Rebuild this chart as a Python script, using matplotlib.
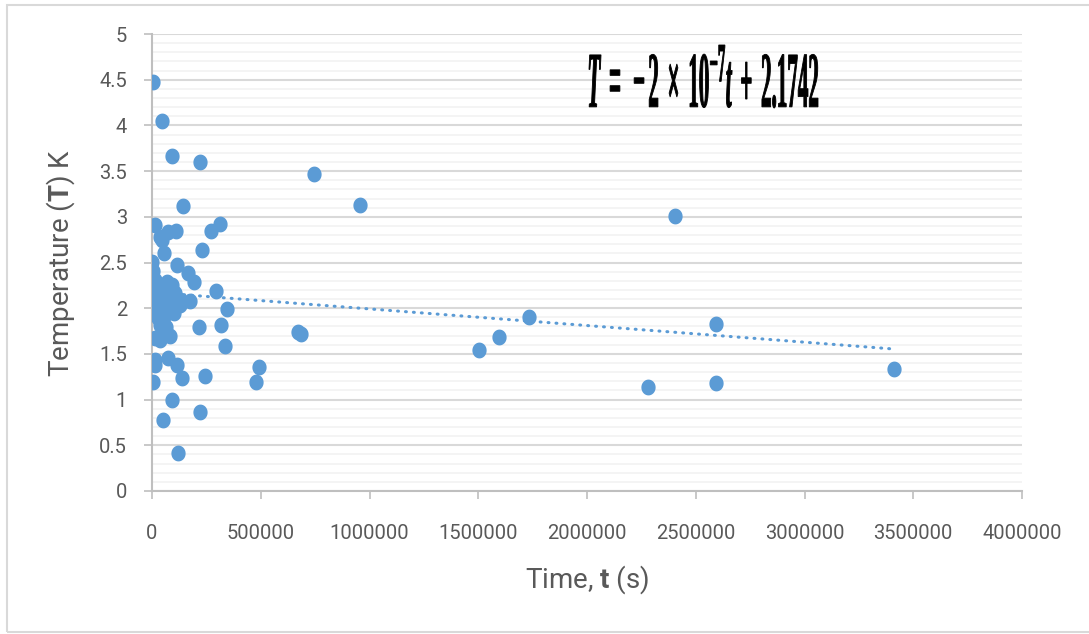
import numpy as np
import matplotlib
matplotlib.use("Agg")
import matplotlib.pyplot as plt
from matplotlib.textpath import TextPath
from matplotlib.patches import PathPatch, Rectangle
from matplotlib.font_manager import FontProperties
from matplotlib.path import Path
import matplotlib.transforms as mtransforms
from matplotlib.ticker import MultipleLocator

plt.rcParams['font.family'] = ['Roboto', 'DejaVu Sans']
plt.rcParams['mathtext.fontset'] = 'custom'
plt.rcParams['mathtext.bf'] = 'Roboto:bold'
plt.rcParams['mathtext.rm'] = 'Liberation Serif:bold'
plt.rcParams['mathtext.it'] = 'Liberation Serif:bold:italic'

# ---- data (time in s, temperature in K) ----
time_s = [5000, 46000, 92000, 221000, 745000, 956000, 143000, 2405000, 14000, 313000,
          271000, 110000, 74000, 37000, 46000, 230000, 55000, 2000, 115000, 5000,
          166000, 193000, 14000, 69000, 5000, 37000, 92000, 69000, 294000, 23000,
          83000, 129000, 175000, 37000, 83000, 129000, 345000, 23000, 69000, 51000,
          1733000, 2593000, 317000, 216000, 671000, 685000, 83000, 1595000, 14000, 37000,
          336000, 1503000, 14000, 14000, 74000, 115000, 492000, 3411000, 138000, 244000,
          478000, 2593000, 5000, 2280000, 92000, 221000, 51000, 120000,
          2000, 60000, 106000, 37000, 64000, 5000, 101000, 28000]
temperature_K = [4.47, 4.05, 3.67, 3.60, 3.47, 3.13, 3.12, 3.01, 2.91, 2.92,
                 2.84, 2.84, 2.83, 2.78, 2.75, 2.64, 2.60, 2.51, 2.47, 2.41,
                 2.39, 2.29, 2.31, 2.29, 2.23, 2.22, 2.25, 2.20, 2.19, 2.09,
                 2.09, 2.09, 2.08, 2.01, 2.01, 2.04, 1.99, 1.95, 1.95, 1.87,
                 1.90, 1.83, 1.82, 1.79, 1.74, 1.72, 1.70, 1.68, 1.67, 1.65,
                 1.59, 1.54, 1.43, 1.38, 1.46, 1.38, 1.36, 1.33, 1.24, 1.26,
                 1.19, 1.18, 1.19, 1.14, 1.00, 0.86, 0.78, 0.42,
                 2.14, 2.14, 2.17, 1.82, 1.79, 2.03, 1.95, 1.89]

trend_slope = -1.82e-7
trend_intercept = 2.1742
trend_t_range = [0, 3411000]

x_ticks = [0, 500000, 1000000, 1500000, 2000000, 2500000, 3000000, 3500000, 4000000]
y_ticks = [0, 0.5, 1, 1.5, 2, 2.5, 3, 3.5, 4, 4.5, 5]
y_tick_labels = ['0', '0.5', '1', '1.5', '2', '2.5', '3', '3.5', '4', '4.5', '5']

W, H = 1089, 634
fig = plt.figure(figsize=(W / 100, H / 100), dpi=100)
fig.patch.set_facecolor('white')

# outer chart border
fig.add_artist(Rectangle((7, 2), W + 10, H - 7, transform=mtransforms.IdentityTransform(),
                         fill=False, edgecolor='#D9D9D9', linewidth=1.5))

ax = fig.add_axes([152 / W, (H - 491) / H, (1022 - 152) / W, (491 - 34) / H])

blue = '#5B9BD5'
theta = np.linspace(0, 2 * np.pi, 60)
ellipse = Path(np.column_stack([0.9 * np.cos(theta), np.sin(theta)]), closed=True)

ax.plot(time_s, temperature_K, linestyle='none', marker=ellipse, markersize=11.4,
        color=blue, markeredgewidth=0, zorder=3)

tt = np.array(trend_t_range, dtype=float)
ax.plot(tt, trend_slope * tt + trend_intercept, linestyle=(0, (0.3, 2.3)),
        dash_capstyle='round', color=blue, linewidth=2.2, zorder=2)

ax.set_xlim(0, 4000000)
ax.set_ylim(0, 5)
ax.set_xticks(x_ticks)
ax.set_xticklabels([str(v) for v in x_ticks])
ax.set_yticks(y_ticks)
ax.set_yticklabels(y_tick_labels)
ax.yaxis.set_minor_locator(MultipleLocator(0.1))

ax.grid(axis='y', which='major', color='#D9D9D9', linewidth=1.5, zorder=0)
ax.grid(axis='y', which='minor', color='#F2F2F2', linewidth=1.2, zorder=0)
ax.set_axisbelow(True)

for s in ['top', 'right']:
    ax.spines[s].set_visible(False)
for s in ['left', 'bottom']:
    ax.spines[s].set_color('#BFBFBF')
    ax.spines[s].set_linewidth(1.5)

ax.tick_params(axis='both', which='major', color='#BFBFBF', width=1.2, length=6,
               labelcolor='#595959', labelsize=14.5)
ax.tick_params(axis='x', pad=18)
ax.tick_params(axis='y', pad=12)
ax.tick_params(axis='y', which='minor', length=0)

ax.set_xlabel(r'Time, $\mathbf{t}$ (s)', fontsize=20, color='#595959', labelpad=14)
ax.set_ylabel(r'Temperature ($\mathbf{T}$) K', fontsize=20, color='#595959', labelpad=16)

# regression equation, drawn as a condensed heavy text path
eq_prop = FontProperties(family='Liberation Serif', weight='bold')
tp = TextPath((0, 0), '$T\\ =\\ \u2212 2\\ \\times\\ 10^{\u22127}t\\ +\\ 2.1742$',
              size=100, prop=eq_prop)
ext = tp.get_extents()
bx0, by0, bx1, by1 = 589, H - 108, 818, H - 45
sx = (bx1 - bx0) / ext.width
sy = (by1 - by0) / ext.height
tr = (mtransforms.Affine2D().translate(-ext.x0, -ext.y0).scale(sx, sy)
      .translate(bx0, by0) + mtransforms.IdentityTransform())
fig.add_artist(PathPatch(tp, transform=tr, facecolor='black', edgecolor='black',
                         linewidth=0.6))

fig.savefig('out.png', dpi=100, facecolor='white')
